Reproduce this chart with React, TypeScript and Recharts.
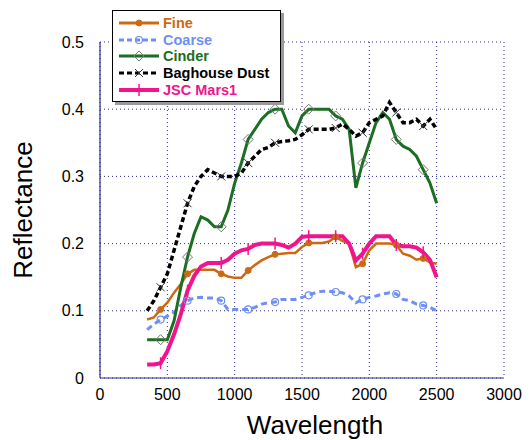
import { LineChart, Line, XAxis, YAxis, CartesianGrid, Label } from 'recharts';

const wavelengths = [
  350, 400, 450, 500, 550, 600, 650, 700, 750, 800, 850, 900, 950, 1000, 1050,
  1100, 1150, 1200, 1250, 1300, 1350, 1400, 1450, 1500, 1550, 1600, 1650, 1700,
  1750, 1800, 1850, 1900, 1950, 2000, 2050, 2100, 2150, 2200, 2250, 2300, 2350,
  2400, 2450, 2500,
];

const fine = [
  0.087, 0.09, 0.102, 0.112, 0.127, 0.14, 0.155, 0.161, 0.161, 0.161, 0.161,
  0.155, 0.151, 0.149, 0.149, 0.16, 0.168, 0.175, 0.18, 0.184, 0.185, 0.186,
  0.186, 0.195, 0.201, 0.201, 0.201, 0.203, 0.21, 0.204, 0.2, 0.165, 0.17, 0.19,
  0.2, 0.2, 0.2, 0.198, 0.185, 0.182, 0.176, 0.178, 0.172, 0.17,
];

const coarse = [
  0.072, 0.08, 0.087, 0.092, 0.098, 0.108, 0.115, 0.119, 0.12, 0.119, 0.119,
  0.115, 0.102, 0.102, 0.102, 0.102, 0.105, 0.11, 0.112, 0.113, 0.117, 0.117,
  0.117, 0.12, 0.123, 0.127, 0.129, 0.129, 0.128, 0.127, 0.122, 0.112, 0.117,
  0.12, 0.122, 0.125, 0.127, 0.125, 0.117, 0.115, 0.11, 0.108, 0.105, 0.1,
];

const cinder = [
  0.057, 0.057, 0.057, 0.057, 0.085, 0.135, 0.18, 0.215, 0.24, 0.235, 0.225,
  0.225, 0.25, 0.29, 0.32, 0.355, 0.37, 0.385, 0.395, 0.4, 0.4, 0.375, 0.365,
  0.39, 0.4, 0.4, 0.4, 0.4, 0.39, 0.385, 0.37, 0.283, 0.32, 0.35, 0.38, 0.395,
  0.385, 0.355, 0.345, 0.34, 0.33, 0.31, 0.29, 0.26,
];

const baghouse = [
  0.1, 0.115, 0.135, 0.155, 0.19, 0.225, 0.26, 0.285, 0.3, 0.31, 0.305, 0.3,
  0.3, 0.3, 0.305, 0.32, 0.33, 0.34, 0.343, 0.35, 0.352, 0.353, 0.355, 0.362,
  0.37, 0.37, 0.37, 0.37, 0.372, 0.378, 0.37, 0.36, 0.365, 0.38, 0.385, 0.39,
  0.41, 0.395, 0.38, 0.38, 0.385, 0.375, 0.385, 0.37,
];

const jscMars1 = [
  0.02, 0.02, 0.022, 0.04, 0.065, 0.095, 0.13, 0.152, 0.166, 0.171, 0.171,
  0.171, 0.176, 0.185, 0.19, 0.192, 0.198, 0.2, 0.2, 0.2, 0.198, 0.194, 0.2,
  0.21, 0.211, 0.211, 0.211, 0.211, 0.211, 0.211, 0.2, 0.175, 0.185, 0.2, 0.211,
  0.211, 0.211, 0.198, 0.196, 0.196, 0.194, 0.187, 0.176, 0.15,
];

const markerAt = [450, 650, 900, 1100, 1300, 1550, 1750, 1950, 2200, 2400];
const xTicks = [0, 500, 1000, 1500, 2000, 2500, 3000];
const yTicks = [0, 0.1, 0.2, 0.3, 0.4, 0.5];

const data = wavelengths.map((w, i) => ({
  w,
  fine: fine[i],
  coarse: coarse[i],
  cinder: cinder[i],
  baghouse: baghouse[i],
  jsc: jscMars1[i],
}));

const FONT = 'Arial, "Liberation Sans", Helvetica, sans-serif';
const NAVY = '#2e2e8a';

const C_FINE = '#cc6a14';
const C_COARSE = '#6f8ff5';
const C_CINDER = '#1b6e22';
const C_BAG = '#000000';
const C_JSC = '#f0158c';

type Kind = 'dot' | 'circle' | 'diamond' | 'x' | 'plus';

function drawMarker(kind: Kind, cx: number, cy: number, color: string, key?: any) {
  if (kind === 'dot')
    return <circle key={key} cx={cx} cy={cy} r={3} fill={color} stroke={color} />;
  if (kind === 'circle')
    return <circle key={key} cx={cx} cy={cy} r={3.5} fill="none" stroke={color} strokeWidth={1.2} />;
  if (kind === 'diamond')
    return (
      <path
        key={key}
        d={`M${cx},${cy - 5} L${cx + 5},${cy} L${cx},${cy + 5} L${cx - 5},${cy} Z`}
        fill="none"
        stroke="#777"
        strokeWidth={1}
      />
    );
  if (kind === 'x')
    return (
      <path
        key={key}
        d={`M${cx - 4},${cy - 4} L${cx + 4},${cy + 4} M${cx - 4},${cy + 4} L${cx + 4},${cy - 4}`}
        stroke="#333"
        strokeWidth={1}
      />
    );
  return (
    <path key={key} d={`M${cx},${cy - 6} L${cx},${cy + 6}`} stroke={color} strokeWidth={1.5} />
  );
}

const markerDot = (kind: Kind, color: string) => (props: any) => {
  const { cx, cy, payload, index } = props;
  if (!markerAt.includes(payload.w) || cx == null || cy == null) return <g key={`e-${index}`} />;
  return drawMarker(kind, cx, cy, color, `m-${index}`);
};

const legendItems: { name: string; color: string; dash?: string; kind: Kind; width: number }[] = [
  { name: 'Fine', color: C_FINE, kind: 'dot', width: 3 },
  { name: 'Coarse', color: C_COARSE, dash: '5 3', kind: 'circle', width: 3 },
  { name: 'Cinder', color: C_CINDER, kind: 'diamond', width: 3 },
  { name: 'Baghouse Dust', color: C_BAG, dash: '5 3', kind: 'x', width: 3 },
  { name: 'JSC Mars1', color: C_JSC, kind: 'plus', width: 4 },
];

function ChartLegend() {
  return (
    <div
      style={{
        position: 'absolute',
        left: 112,
        top: 10,
        width: 169,
        height: 92,
        border: '1px solid #000',
        background: '#fff',
        boxShadow: '3px 3px 0 #9a9a9a',
        paddingTop: 4,
        boxSizing: 'border-box',
        fontFamily: FONT,
        fontWeight: 'bold',
        fontSize: 14.5,
      }}
    >
      {legendItems.map((it) => (
        <div key={it.name} style={{ display: 'flex', alignItems: 'center', height: 16.6 }}>
          <svg width={46} height={16} style={{ marginLeft: 4 }}>
            <line
              x1={2}
              y1={8}
              x2={42}
              y2={8}
              stroke={it.color}
              strokeWidth={it.width}
              strokeDasharray={it.dash}
            />
            {drawMarker(it.kind, 22, 8, it.color)}
          </svg>
          <span style={{ color: it.color, lineHeight: '16px' }}>{it.name}</span>
        </div>
      ))}
    </div>
  );
}

export default function App() {
  return (
    <div style={{ position: 'absolute', left: 0, top: 0, width: 531, height: 440, background: '#fff' }}>
      <LineChart width={531} height={440} data={data} margin={{ top: 42, right: 27, bottom: 0, left: 40 }}>
        <CartesianGrid stroke={NAVY} strokeDasharray="1 3" strokeWidth={1} />
        <XAxis
          dataKey="w"
          type="number"
          domain={[0, 3000]}
          ticks={xTicks}
          height={62}
          tickLine={false}
          tickMargin={5}
          axisLine={{ stroke: NAVY, strokeWidth: 1.2 }}
          tick={{ fill: '#000', fontSize: 16, fontFamily: FONT }}
          interval={0}
        >
          <Label
            value="Wavelength"
            position="insideBottom"
            offset={6}
            dx={13}
            style={{ fill: '#000', fontSize: 26, fontFamily: FONT }}
          />
        </XAxis>
        <XAxis xAxisId="top" orientation="top" type="number" domain={[0, 3000]} height={0} tick={false} tickLine={false} axisLine={{ stroke: NAVY, strokeWidth: 1.2 }} />
        <YAxis
          domain={[0, 0.5]}
          ticks={yTicks}
          width={60}
          tickLine={false}
          tickMargin={10}
          axisLine={{ stroke: NAVY, strokeWidth: 1.2 }}
          tick={{ fill: '#000', fontSize: 16, fontFamily: FONT }}
          interval={0}
        >
          <Label
            content={(props: any) => {
              const vb = props.viewBox || { x: 40, y: 42, height: 336 };
              const cy = vb.y + vb.height / 2;
              return (
                <text
                  x={23}
                  y={cy}
                  transform={`rotate(-90, 23, ${cy})`}
                  textAnchor="middle"
                  dominantBaseline="central"
                  style={{ fill: '#000', fontSize: 26, fontFamily: FONT }}
                >
                  Reflectance
                </text>
              );
            }}
          />
        </YAxis>
        <YAxis yAxisId="right" orientation="right" domain={[0, 0.5]} width={0} tick={false} tickLine={false} axisLine={{ stroke: NAVY, strokeWidth: 1.2 }} />
        <Line
          type="linear"
          dataKey="coarse"
          stroke={C_COARSE}
          strokeWidth={3}
          strokeDasharray="6 4"
          dot={markerDot('circle', C_COARSE)}
          isAnimationActive={false}
        />
        <Line
          type="linear"
          dataKey="fine"
          stroke={C_FINE}
          strokeWidth={2.5}
          dot={markerDot('dot', C_FINE)}
          isAnimationActive={false}
        />
        <Line
          type="linear"
          dataKey="jsc"
          stroke={C_JSC}
          strokeWidth={4}
          dot={markerDot('plus', C_JSC)}
          isAnimationActive={false}
        />
        <Line
          type="linear"
          dataKey="cinder"
          stroke={C_CINDER}
          strokeWidth={3}
          dot={markerDot('diamond', C_CINDER)}
          isAnimationActive={false}
        />
        <Line
          type="linear"
          dataKey="baghouse"
          stroke={C_BAG}
          strokeWidth={3.5}
          strokeDasharray="5 3"
          dot={markerDot('x', C_BAG)}
          isAnimationActive={false}
        />
      </LineChart>
      <ChartLegend />
    </div>
  );
}
